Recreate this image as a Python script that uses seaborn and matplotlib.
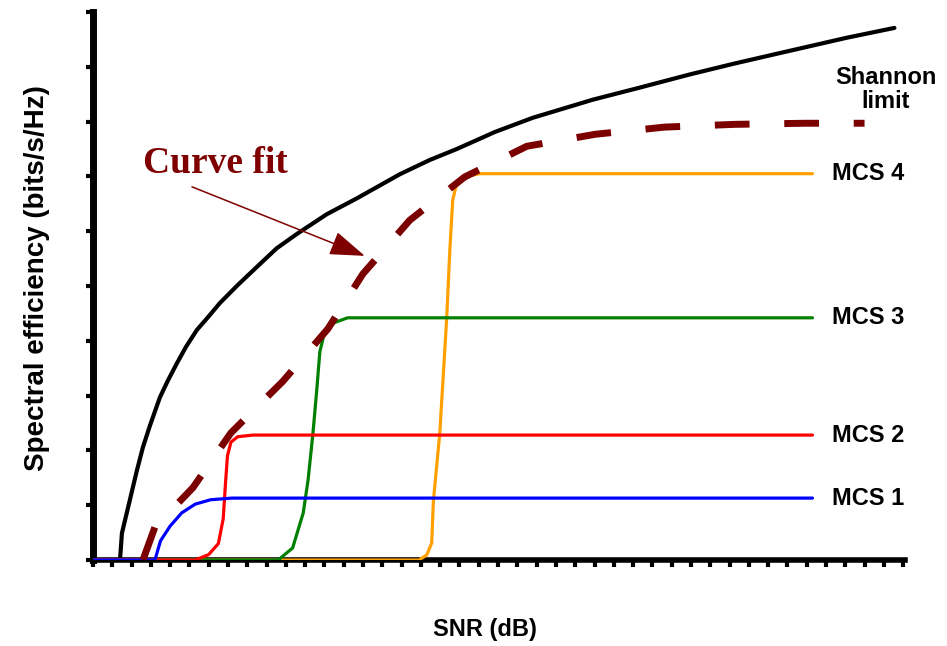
import matplotlib
matplotlib.use("Agg")
import matplotlib.pyplot as plt
import seaborn as sns

# SNR axis in tick steps (0..42), efficiency in tick steps (0..10)
shannon_snr = [1.40, 1.50, 2.07, 2.28, 2.59, 2.95, 3.47, 3.89, 4.35, 4.82, 5.39, 5.96, 6.58,
               7.51, 8.50, 9.53, 10.57, 12.12, 13.68, 15.91, 17.46, 18.86, 20.83, 22.80,
               25.91, 28.34, 30.93, 33.26, 35.60, 39.07, 41.55]
shannon_eff = [0.00, 0.49, 1.33, 1.64, 2.06, 2.45, 2.97, 3.28, 3.59, 3.89, 4.20, 4.43, 4.69,
               5.02, 5.35, 5.69, 5.95, 6.31, 6.60, 7.04, 7.30, 7.50, 7.81, 8.07,
               8.40, 8.62, 8.86, 9.06, 9.25, 9.53, 9.71]

fit_snr = [2.59, 3.21, 5.18, 7.15, 9.84, 12.18, 13.99, 16.42, 19.27, 22.49, 26.06, 29.64, 33.26, 36.89, 40.00]
fit_eff = [0.00, 0.60, 1.32, 2.32, 3.26, 4.22, 5.22, 6.20, 6.99, 7.55, 7.77, 7.90, 7.95, 7.97, 7.97]

mcs1_snr = [0, 3.21, 3.50, 4.00, 4.60, 5.30, 6.10, 7.20, 37.3]
mcs1_eff = [0, 0.00, 0.35, 0.62, 0.86, 1.02, 1.10, 1.13, 1.13]

mcs2_snr = [0, 5.30, 6.00, 6.50, 6.75, 6.87, 6.97, 7.15, 7.50, 8.30, 37.3]
mcs2_eff = [0, 0.00, 0.10, 0.30, 0.75, 1.40, 1.90, 2.15, 2.25, 2.28, 2.28]

mcs3_snr = [0, 9.60, 10.35, 10.90, 11.15, 11.40, 11.60, 11.76, 12.00, 12.50, 13.20, 37.3]
mcs3_eff = [0, 0.00, 0.22, 0.86, 1.46, 2.30, 3.10, 3.80, 4.15, 4.33, 4.42, 4.42]

mcs4_snr = [0, 16.90, 17.30, 17.56, 17.65, 17.98, 18.34, 18.50, 18.65, 18.86, 19.17, 20.05, 37.3]
mcs4_eff = [0, 0.00, 0.09, 0.31, 1.09, 2.32, 4.43, 5.66, 6.57, 6.88, 6.99, 7.05, 7.05]

mcs_names = ["MCS 1", "MCS 2", "MCS 3", "MCS 4"]
mcs_colors = ["#0000ff", "#ff0000", "#008000", "#ffa000"]

sns.set_theme(style="white")
plt.rcParams["font.family"] = ["Liberation Sans", "DejaVu Sans"]
plt.rcParams["text.color"] = "black"
plt.rcParams["axes.labelcolor"] = "black"

fig = plt.figure(figsize=(9.47, 6.46), dpi=100)
ax = fig.add_axes([0.0982, 0.1331, 0.8575, 0.8483])

sns.lineplot(x=shannon_snr, y=shannon_eff, ax=ax, color="black", lw=3, zorder=2)

mcs_data = [(mcs1_snr, mcs1_eff), (mcs2_snr, mcs2_eff), (mcs3_snr, mcs3_eff), (mcs4_snr, mcs4_eff)]
for i, (xs, ys) in enumerate(mcs_data):
    # blue on top, orange at the bottom
    sns.lineplot(x=xs, y=ys, ax=ax, color=mcs_colors[i], lw=2.3, zorder=6 - i)
    ax.text(38.3, ys[-1], mcs_names[i], fontsize=17, fontweight="bold", color="black",
            va="center", ha="left")

sns.lineplot(x=fit_snr, y=fit_eff, ax=ax, color="#7b0000", lw=5, linestyle=(0, (5, 5)), zorder=8)

ax.text(41.1, 8.58, "Shannon\nlimit", fontsize=17, fontweight="bold", color="black", ha="center",
        va="center", multialignment="center", linespacing=1.05, clip_on=False)

ax.text(2.59, 7.06, "Curve fit", fontsize=27, fontweight="bold", color="#7f0000",
        family=["Liberation Serif", "DejaVu Serif"], va="baseline", ha="left")
ax.annotate("", xy=(14.09, 5.55), xytext=(5.13, 6.81),
            arrowprops=dict(arrowstyle="-|>,head_length=1.1,head_width=0.38", color="#7f0000",
                            lw=1.1, mutation_scale=20, shrinkA=0, shrinkB=0))

ax.set_xlim(0, 42.1)
ax.set_ylim(0, 10)
ax.set_xticks(range(43))
ax.set_yticks(range(11))
ax.tick_params(axis="both", direction="out", length=5, width=3, color="black",
               labelleft=False, labelbottom=False, left=True, bottom=True)
sns.despine(ax=ax)
ax.spines["left"].set_linewidth(5)
ax.spines["bottom"].set_linewidth(4)
ax.spines["left"].set_color("black")
ax.spines["bottom"].set_color("black")

ax.set_xlabel("SNR (dB)", fontsize=17, fontweight="bold", color="black")
ax.set_ylabel("Spectral efficiency (bits/s/Hz)", fontsize=20, fontweight="bold", color="black")
ax.xaxis.set_label_coords(0.483, -0.106)
ax.yaxis.set_label_coords(-0.053, 0.515)

fig.savefig("out.png", dpi=100)
